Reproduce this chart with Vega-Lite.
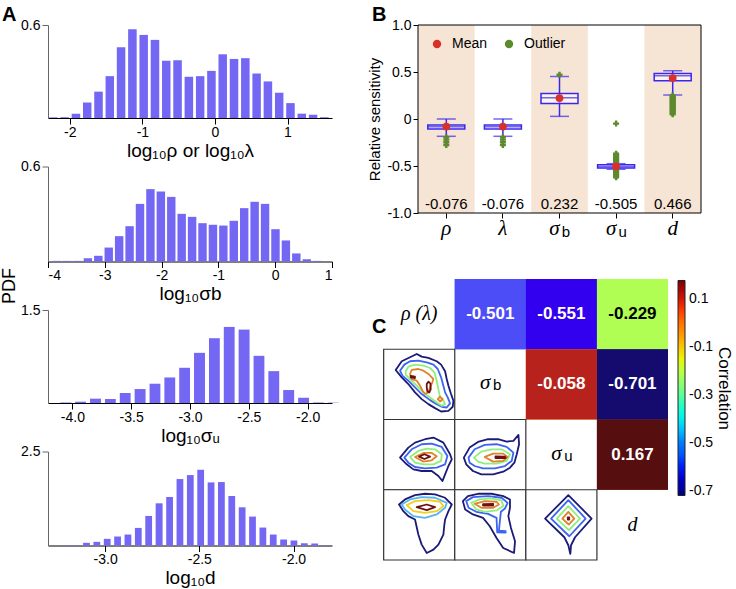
{
  "$schema": "https://vega.github.io/schema/vega-lite/v6.json",
  "padding": {"top": 5, "left": 0, "right": 0, "bottom": 0},
  "autosize": {"type": "pad"},
  "background": "white",
  "config": {
    "font": "Liberation Sans",
    "view": {"stroke": null},
    "locale": {"number": {"decimal": ".", "thousands": ",", "grouping": [3], "currency": ["$", ""], "minus": "-"}},
    "axis": {"labelFont": "Liberation Sans", "titleFont": "Liberation Sans", "labelColor": "black", "titleColor": "black", "tickColor": "black", "domainColor": "black", "grid": false, "titleFontWeight": "normal"},
    "title": {"font": "Liberation Sans", "fontSize": 20, "fontWeight": "bold", "color": "black", "frame": "group"}
  },
  "datasets": {
    "h1": [
      {"a": -2.311, "b": -2.156, "p": 0.004}, {"a": -2.156, "b": -2.0, "p": 0.005}, {"a": -2.0, "b": -1.844, "p": 0.028},
      {"a": -1.844, "b": -1.689, "p": 0.10}, {"a": -1.689, "b": -1.533, "p": 0.17}, {"a": -1.533, "b": -1.378, "p": 0.27},
      {"a": -1.378, "b": -1.222, "p": 0.456}, {"a": -1.222, "b": -1.066, "p": 0.572}, {"a": -1.066, "b": -0.911, "p": 0.536},
      {"a": -0.911, "b": -0.755, "p": 0.504}, {"a": -0.755, "b": -0.600, "p": 0.37}, {"a": -0.600, "b": -0.444, "p": 0.373},
      {"a": -0.444, "b": -0.288, "p": 0.266}, {"a": -0.288, "b": -0.133, "p": 0.27}, {"a": -0.133, "b": 0.023, "p": 0.304},
      {"a": 0.023, "b": 0.178, "p": 0.411}, {"a": 0.178, "b": 0.334, "p": 0.381}, {"a": 0.334, "b": 0.490, "p": 0.386},
      {"a": 0.490, "b": 0.645, "p": 0.287}, {"a": 0.645, "b": 0.801, "p": 0.236}, {"a": 0.801, "b": 0.956, "p": 0.163},
      {"a": 0.956, "b": 1.112, "p": 0.096}, {"a": 1.112, "b": 1.268, "p": 0.028}, {"a": 1.268, "b": 1.423, "p": 0.021},
      {"a": 1.423, "b": 1.579, "p": 0.005}
    ],
    "h2": [
      {"a": -3.948, "b": -3.765, "p": 0.004}, {"a": -3.765, "b": -3.581, "p": 0.004}, {"a": -3.581, "b": -3.398, "p": 0.004},
      {"a": -3.398, "b": -3.215, "p": 0.021}, {"a": -3.215, "b": -3.031, "p": 0.036}, {"a": -3.031, "b": -2.848, "p": 0.088},
      {"a": -2.848, "b": -2.664, "p": 0.16}, {"a": -2.664, "b": -2.481, "p": 0.223}, {"a": -2.481, "b": -2.297, "p": 0.364},
      {"a": -2.297, "b": -2.114, "p": 0.457}, {"a": -2.114, "b": -1.930, "p": 0.442}, {"a": -1.930, "b": -1.747, "p": 0.408},
      {"a": -1.747, "b": -1.564, "p": 0.301}, {"a": -1.564, "b": -1.380, "p": 0.282}, {"a": -1.380, "b": -1.197, "p": 0.242},
      {"a": -1.197, "b": -1.013, "p": 0.232}, {"a": -1.013, "b": -0.830, "p": 0.227}, {"a": -0.830, "b": -0.646, "p": 0.257},
      {"a": -0.646, "b": -0.463, "p": 0.337}, {"a": -0.463, "b": -0.279, "p": 0.377}, {"a": -0.279, "b": -0.096, "p": 0.364},
      {"a": -0.096, "b": 0.088, "p": 0.204}, {"a": 0.088, "b": 0.271, "p": 0.133}, {"a": 0.271, "b": 0.455, "p": 0.051},
      {"a": 0.455, "b": 0.638, "p": 0.015}, {"a": 0.638, "b": 0.821, "p": 0.004}
    ],
    "h3": [
      {"a": -4.123, "b": -3.997, "p": 0.008}, {"a": -3.997, "b": -3.871, "p": 0.021}, {"a": -3.871, "b": -3.744, "p": 0.07},
      {"a": -3.744, "b": -3.618, "p": 0.064}, {"a": -3.618, "b": -3.492, "p": 0.161}, {"a": -3.492, "b": -3.365, "p": 0.225},
      {"a": -3.365, "b": -3.239, "p": 0.311}, {"a": -3.239, "b": -3.113, "p": 0.412}, {"a": -3.113, "b": -2.987, "p": 0.568},
      {"a": -2.987, "b": -2.860, "p": 0.809}, {"a": -2.860, "b": -2.734, "p": 1.045}, {"a": -2.734, "b": -2.608, "p": 1.227},
      {"a": -2.608, "b": -2.481, "p": 1.184}, {"a": -2.481, "b": -2.355, "p": 0.761}, {"a": -2.355, "b": -2.229, "p": 0.514},
      {"a": -2.229, "b": -2.102, "p": 0.209}, {"a": -2.102, "b": -1.976, "p": 0.086}, {"a": -1.976, "b": -1.850, "p": 0.008},
      {"a": -1.850, "b": -1.723, "p": 0.006}
    ],
    "h4": [
      {"a": -3.239, "b": -3.184, "p": 0.01}, {"a": -3.184, "b": -3.129, "p": 0.01}, {"a": -3.129, "b": -3.074, "p": 0.071},
      {"a": -3.074, "b": -3.019, "p": 0.097}, {"a": -3.019, "b": -2.964, "p": 0.177}, {"a": -2.964, "b": -2.909, "p": 0.239},
      {"a": -2.909, "b": -2.854, "p": 0.292}, {"a": -2.854, "b": -2.799, "p": 0.468}, {"a": -2.799, "b": -2.744, "p": 0.786},
      {"a": -2.744, "b": -2.688, "p": 1.122}, {"a": -2.688, "b": -2.633, "p": 1.29}, {"a": -2.633, "b": -2.578, "p": 1.767},
      {"a": -2.578, "b": -2.523, "p": 1.873}, {"a": -2.523, "b": -2.468, "p": 2.014}, {"a": -2.468, "b": -2.413, "p": 1.678},
      {"a": -2.413, "b": -2.358, "p": 1.687}, {"a": -2.358, "b": -2.303, "p": 1.316}, {"a": -2.303, "b": -2.248, "p": 1.016},
      {"a": -2.248, "b": -2.193, "p": 0.769}, {"a": -2.193, "b": -2.138, "p": 0.477}, {"a": -2.138, "b": -2.083, "p": 0.292},
      {"a": -2.083, "b": -2.028, "p": 0.159}, {"a": -2.028, "b": -1.973, "p": 0.133}, {"a": -1.973, "b": -1.918, "p": 0.062},
      {"a": -1.918, "b": -1.863, "p": 0.053}, {"a": -1.863, "b": -1.808, "p": 0.008}
    ],
    "box": [
      {"k": "rho", "lo": -0.184, "q1": -0.106, "med": -0.083, "q3": -0.064, "hi": 0.0, "lab": "-0.076", "sym": "ρ", "sub": ""},
      {"k": "lambda", "lo": -0.184, "q1": -0.106, "med": -0.083, "q3": -0.064, "hi": 0.0, "lab": "-0.076", "sym": "λ", "sub": ""},
      {"k": "sb", "lo": 0.028, "q1": 0.166, "med": 0.226, "q3": 0.272, "hi": 0.452, "lab": "0.232", "sym": "σ", "sub": "b"},
      {"k": "su", "lo": -0.535, "q1": -0.522, "med": -0.505, "q3": -0.488, "hi": -0.475, "lab": "-0.505", "sym": "σ", "sub": "u"},
      {"k": "d", "lo": 0.254, "q1": 0.406, "med": 0.459, "q3": 0.484, "hi": 0.512, "lab": "0.466", "sym": "d", "sub": ""}
    ],
    "pts": [
      {"k": "rho", "val": -0.194, "type": "Outlier"}, {"k": "rho", "val": -0.219, "type": "Outlier"}, {"k": "rho", "val": -0.247, "type": "Outlier"}, {"k": "rho", "val": -0.276, "type": "Outlier"},
      {"k": "lambda", "val": -0.194, "type": "Outlier"}, {"k": "lambda", "val": -0.219, "type": "Outlier"}, {"k": "lambda", "val": -0.247, "type": "Outlier"}, {"k": "lambda", "val": -0.276, "type": "Outlier"},
      {"k": "sb", "val": 0.47, "type": "Outlier"},
      {"k": "su", "val": -0.049, "type": "Outlier"}, {"k": "su", "val": -0.37, "type": "Outlier"}, {"k": "su", "val": -0.38, "type": "Outlier"}, {"k": "su", "val": -0.39, "type": "Outlier"},
      {"k": "su", "val": -0.40, "type": "Outlier"}, {"k": "su", "val": -0.41, "type": "Outlier"}, {"k": "su", "val": -0.42, "type": "Outlier"}, {"k": "su", "val": -0.43, "type": "Outlier"},
      {"k": "su", "val": -0.44, "type": "Outlier"}, {"k": "su", "val": -0.45, "type": "Outlier"}, {"k": "su", "val": -0.46, "type": "Outlier"}, {"k": "su", "val": -0.47, "type": "Outlier"},
      {"k": "su", "val": -0.48, "type": "Outlier"}, {"k": "su", "val": -0.49, "type": "Outlier"}, {"k": "su", "val": -0.50, "type": "Outlier"}, {"k": "su", "val": -0.51, "type": "Outlier"},
      {"k": "su", "val": -0.52, "type": "Outlier"}, {"k": "su", "val": -0.53, "type": "Outlier"}, {"k": "su", "val": -0.54, "type": "Outlier"}, {"k": "su", "val": -0.55, "type": "Outlier"},
      {"k": "su", "val": -0.56, "type": "Outlier"}, {"k": "su", "val": -0.57, "type": "Outlier"}, {"k": "su", "val": -0.58, "type": "Outlier"}, {"k": "su", "val": -0.59, "type": "Outlier"},
      {"k": "su", "val": -0.60, "type": "Outlier"}, {"k": "su", "val": -0.61, "type": "Outlier"}, {"k": "su", "val": -0.62, "type": "Outlier"},
      {"k": "d", "val": 0.05, "type": "Outlier"}, {"k": "d", "val": 0.06, "type": "Outlier"}, {"k": "d", "val": 0.07, "type": "Outlier"}, {"k": "d", "val": 0.08, "type": "Outlier"},
      {"k": "d", "val": 0.09, "type": "Outlier"}, {"k": "d", "val": 0.10, "type": "Outlier"}, {"k": "d", "val": 0.11, "type": "Outlier"}, {"k": "d", "val": 0.12, "type": "Outlier"},
      {"k": "d", "val": 0.13, "type": "Outlier"}, {"k": "d", "val": 0.14, "type": "Outlier"}, {"k": "d", "val": 0.15, "type": "Outlier"}, {"k": "d", "val": 0.16, "type": "Outlier"},
      {"k": "d", "val": 0.17, "type": "Outlier"}, {"k": "d", "val": 0.18, "type": "Outlier"}, {"k": "d", "val": 0.19, "type": "Outlier"}, {"k": "d", "val": 0.20, "type": "Outlier"},
      {"k": "d", "val": 0.21, "type": "Outlier"}, {"k": "d", "val": 0.22, "type": "Outlier"}, {"k": "d", "val": 0.23, "type": "Outlier"}, {"k": "d", "val": 0.24, "type": "Outlier"},
      {"k": "d", "val": 0.25, "type": "Outlier"},
      {"k": "rho", "val": -0.081, "type": "Mean"}, {"k": "lambda", "val": -0.081, "type": "Mean"}, {"k": "sb", "val": 0.223, "type": "Mean"},
      {"k": "su", "val": -0.505, "type": "Mean"}, {"k": "d", "val": 0.435, "type": "Mean"}
    ],
    "cells": [
      {"r": 0, "c": 1, "kind": "heat", "v": -0.501}, {"r": 0, "c": 2, "kind": "heat", "v": -0.551}, {"r": 0, "c": 3, "kind": "heat", "v": -0.229},
      {"r": 1, "c": 2, "kind": "heat", "v": -0.058}, {"r": 1, "c": 3, "kind": "heat", "v": -0.701}, {"r": 2, "c": 3, "kind": "heat", "v": 0.167},
      {"r": 1, "c": 0, "kind": "lower"}, {"r": 2, "c": 0, "kind": "lower"}, {"r": 2, "c": 1, "kind": "lower"},
      {"r": 3, "c": 0, "kind": "lower"}, {"r": 3, "c": 1, "kind": "lower"}, {"r": 3, "c": 2, "kind": "lower"},
      {"r": 0, "c": 0, "kind": "diag", "main": "ρ (λ)", "sub": ""}, {"r": 1, "c": 1, "kind": "diag", "main": "σ", "sub": "b"},
      {"r": 2, "c": 2, "kind": "diag", "main": "σ", "sub": "u"}, {"r": 3, "c": 3, "kind": "diag", "main": "d", "sub": ""}
    ],
    "cont": [
      {"id": "a1", "lvl": "navy", "gx": [0.169,0.254,0.371,0.465,0.535,0.629,0.746,0.808,0.864,0.887,0.911,0.948,0.981,0.972,0.911,0.808,0.723,0.629,0.535,0.441,0.347,0.254], "gy": [1.295,1.171,1.114,1.067,1.105,1.124,1.171,1.219,1.314,1.424,1.519,1.638,1.733,1.819,1.876,1.886,1.838,1.781,1.710,1.614,1.495,1.400]},
      {"id": "a2", "lvl": "blue", "gx": [0.230,0.291,0.371,0.488,0.606,0.700,0.761,0.808,0.840,0.864,0.901,0.934,0.887,0.817,0.746,0.653,0.535,0.441,0.347,0.263], "gy": [1.305,1.219,1.171,1.162,1.186,1.219,1.281,1.400,1.519,1.614,1.686,1.771,1.829,1.819,1.781,1.724,1.638,1.543,1.448,1.376]},
      {"id": "a3", "lvl": "green", "gx": [0.310,0.347,0.441,0.559,0.653,0.714,0.746,0.770,0.793,0.840,0.864,0.817,0.746,0.653,0.559,0.465,0.371,0.310], "gy": [1.314,1.248,1.219,1.233,1.267,1.329,1.448,1.567,1.686,1.733,1.781,1.805,1.757,1.686,1.614,1.519,1.424,1.362]},
      {"id": "a4", "lvl": "orange", "gx": [0.371,0.394,0.488,0.559,0.629,0.700,0.685,0.653,0.629,0.582,0.545,0.512,0.465,0.394], "gy": [1.352,1.295,1.281,1.305,1.352,1.424,1.471,1.543,1.614,1.638,1.590,1.519,1.448,1.424]},
      {"id": "a5", "lvl": "orange", "gx": [0.761,0.793,0.831,0.793], "gy": [1.710,1.676,1.710,1.743]},
      {"id": "a6", "lvl": "dred", "gx": [0.38,0.44,0.44,0.38], "gy": [1.38,1.39,1.41,1.40]},
      {"id": "a7", "lvl": "dred", "gx": [0.606,0.629,0.657,0.662,0.643,0.615,0.606], "gy": [1.495,1.462,1.486,1.567,1.614,1.600,1.543]},
      {"id": "b1", "lvl": "navy", "gx": [0.230,0.347,0.441,0.582,0.700,0.840,0.934,0.958,0.911,0.864,0.826,0.770,0.676,0.535,0.418,0.324], "gy": [2.543,2.400,2.329,2.281,2.257,2.329,2.495,2.567,2.662,2.781,2.876,2.805,2.733,2.733,2.710,2.638]},
      {"id": "b2", "lvl": "blue", "gx": [0.291,0.394,0.535,0.676,0.817,0.897,0.864,0.746,0.582,0.441,0.347], "gy": [2.543,2.424,2.352,2.343,2.390,2.519,2.638,2.686,2.695,2.676,2.614]},
      {"id": "b3", "lvl": "green", "gx": [0.371,0.488,0.606,0.723,0.817,0.808,0.700,0.559,0.441], "gy": [2.533,2.448,2.414,2.424,2.495,2.590,2.638,2.638,2.614]},
      {"id": "b4", "lvl": "orange", "gx": [0.441,0.559,0.676,0.746,0.676,0.559], "gy": [2.533,2.476,2.476,2.524,2.581,2.600]},
      {"id": "b5", "lvl": "dred", "gx": [0.498,0.573,0.653,0.573], "gy": [2.529,2.495,2.529,2.562]},
      {"id": "c1", "lvl": "navy", "gx": [1.128,1.209,1.327,1.469,1.611,1.730,1.825,1.896,1.905,1.872,1.839,1.777,1.682,1.540,1.374,1.256,1.161], "gy": [2.543,2.400,2.319,2.281,2.281,2.314,2.305,2.219,2.352,2.495,2.614,2.686,2.743,2.781,2.781,2.733,2.638]},
      {"id": "c2", "lvl": "blue", "gx": [1.194,1.280,1.422,1.588,1.730,1.825,1.801,1.706,1.564,1.398,1.280,1.209], "gy": [2.543,2.424,2.362,2.352,2.390,2.471,2.590,2.662,2.695,2.695,2.662,2.614]},
      {"id": "c3", "lvl": "green", "gx": [1.270,1.374,1.517,1.659,1.777,1.730,1.588,1.422,1.327], "gy": [2.543,2.457,2.424,2.424,2.495,2.590,2.629,2.629,2.600]},
      {"id": "c4", "lvl": "orange", "gx": [1.422,1.540,1.682,1.744,1.682,1.540], "gy": [2.533,2.486,2.486,2.533,2.590,2.600]},
      {"id": "c5", "lvl": "dred", "gx": [1.573,1.706,1.716,1.573], "gy": [2.524,2.529,2.548,2.548]},
      {"id": "d1", "lvl": "navy", "gx": [0.216,0.300,0.441,0.582,0.723,0.864,0.958,0.911,0.864,0.854,0.840,0.770,0.700,0.606,0.535,0.488,0.441,0.347,0.277], "gy": [3.210,3.138,3.076,3.057,3.067,3.114,3.210,3.305,3.424,3.495,3.638,3.781,3.852,3.900,3.781,3.638,3.424,3.376,3.305]},
      {"id": "d2", "lvl": "lblue", "gx": [0.254,0.371,0.535,0.723,0.887,0.864,0.746,0.582,0.418,0.300], "gy": [3.210,3.138,3.105,3.114,3.186,3.257,3.352,3.400,3.376,3.281]},
      {"id": "d3", "lvl": "yellow", "gx": [0.324,0.441,0.629,0.793,0.840,0.746,0.582,0.418], "gy": [3.219,3.162,3.148,3.171,3.233,3.305,3.329,3.305]},
      {"id": "d4", "lvl": "dred", "gx": [0.465,0.606,0.723,0.606], "gy": [3.248,3.210,3.248,3.290]},
      {"id": "e1", "lvl": "navy", "gx": [1.114,1.185,1.327,1.517,1.682,1.777,1.777,1.754,1.791,1.848,1.834,1.682,1.588,1.493,1.398,1.256,1.147], "gy": [3.162,3.090,3.057,3.057,3.090,3.138,3.257,3.376,3.543,3.733,3.900,3.829,3.686,3.519,3.400,3.352,3.281]},
      {"id": "e2", "lvl": "blue", "gx": [1.161,1.256,1.469,1.659,1.744,1.706,1.649,1.635,1.621,1.716,1.716,1.597,1.588,1.469,1.303,1.194], "gy": [3.162,3.105,3.090,3.114,3.186,3.267,3.314,3.448,3.581,3.590,3.610,3.605,3.400,3.343,3.314,3.257]},
      {"id": "e3", "lvl": "green", "gx": [1.232,1.351,1.517,1.659,1.682,1.588,1.422,1.303], "gy": [3.186,3.138,3.124,3.152,3.233,3.295,3.314,3.281]},
      {"id": "e4", "lvl": "orange", "gx": [1.280,1.422,1.588,1.621,1.540,1.374], "gy": [3.200,3.162,3.171,3.210,3.257,3.257]},
      {"id": "e5", "lvl": "dred", "gx": [1.398,1.540,1.540,1.398], "gy": [3.205,3.200,3.224,3.224]},
      {"id": "f1", "lvl": "navy", "gx": [2.598,2.925,2.692,2.636,2.626,2.598,2.542,2.271], "gy": [3.076,3.410,3.676,3.790,3.914,3.790,3.676,3.410]},
      {"id": "f2", "lvl": "blue", "gx": [2.598,2.841,2.612,2.355], "gy": [3.148,3.410,3.662,3.410]},
      {"id": "f3", "lvl": "green", "gx": [2.598,2.762,2.607,2.435], "gy": [3.233,3.410,3.576,3.410]},
      {"id": "f4", "lvl": "orange", "gx": [2.598,2.682,2.603,2.514], "gy": [3.314,3.410,3.495,3.410]},
      {"id": "f5", "lvl": "dred", "gx": [2.590,2.610,2.610,2.590], "gy": [3.395,3.395,3.425,3.425]}
    ]
  },
  "spacing": 28,
  "hconcat": [
    {
      "bounds": "flush",
      "spacing": 48.5,
      "vconcat": [
        {
          "width": 284, "height": 93,
          "title": {"text": "A", "anchor": "start", "dx": -46, "offset": -7},
          "data": {"name": "h1"},
          "mark": {"type": "bar", "color": "#7367f4", "binSpacing": 2.8},
          "encoding": {
            "x": {"field": "a", "type": "quantitative", "bin": {"binned": true}, "scale": {"domain": [-2.3, 1.613], "nice": false, "zero": false},
                  "axis": {"values": [-2, -1, 0, 1], "format": "d", "title": "log₁₀ρ or log₁₀λ", "titleFontSize": 19, "labelFontSize": 14, "tickSize": 6, "labelPadding": 1, "titlePadding": 2}},
            "x2": {"field": "b"},
            "y": {"field": "p", "type": "quantitative", "scale": {"domain": [0, 0.6], "nice": false},
                  "axis": {"values": [0.6], "format": ".1f", "title": null, "labelFontSize": 14, "tickSize": 6, "domainColor": "#666", "tickColor": "#666"}}
          }
        },
        {
          "width": 284, "height": 95,
          "data": {"name": "h2"},
          "mark": {"type": "bar", "color": "#7367f4", "binSpacing": 2},
          "encoding": {
            "x": {"field": "a", "type": "quantitative", "bin": {"binned": true}, "scale": {"domain": [-4, 1], "nice": false, "zero": false},
                  "axis": {"values": [-4, -3, -2, -1, 0, 1], "format": "d", "title": "log₁₀σb", "titleFontSize": 19, "labelFontSize": 14, "tickSize": 6, "labelPadding": 1, "titlePadding": 2}},
            "x2": {"field": "b"},
            "y": {"field": "p", "type": "quantitative", "scale": {"domain": [0, 0.6], "nice": false},
                  "axis": {"values": [0.6], "format": ".1f", "title": "PDF", "titleFontSize": 18, "titleX": -39, "titleY": 119, "titleAlign": "center", "titleBaseline": "middle", "labelFontSize": 14, "tickSize": 6, "domainColor": "#666", "tickColor": "#666"}}
          }
        },
        {
          "width": 284, "height": 93,
          "data": {"name": "h3"},
          "mark": {"type": "bar", "color": "#7367f4", "binSpacing": 4},
          "encoding": {
            "x": {"field": "a", "type": "quantitative", "bin": {"binned": true}, "scale": {"domain": [-4.207, -1.793], "nice": false, "zero": false},
                  "axis": {"values": [-4, -3.5, -3, -2.5, -2], "format": ".1f", "title": "log₁₀σᵤ", "titleFontSize": 19, "labelFontSize": 14, "tickSize": 6, "labelPadding": 1, "titlePadding": 2}},
            "x2": {"field": "b"},
            "y": {"field": "p", "type": "quantitative", "scale": {"domain": [0, 1.5], "nice": false},
                  "axis": {"values": [1.5], "format": ".1f", "title": null, "labelFontSize": 14, "tickSize": 6, "domainColor": "#666", "tickColor": "#666"}}
          }
        },
        {
          "width": 284, "height": 94,
          "data": {"name": "h4"},
          "mark": {"type": "bar", "color": "#7367f4", "binSpacing": 3.6},
          "encoding": {
            "x": {"field": "a", "type": "quantitative", "bin": {"binned": true}, "scale": {"domain": [-3.303, -1.796], "nice": false, "zero": false},
                  "axis": {"values": [-3, -2.5, -2], "format": ".1f", "title": "log₁₀d", "titleFontSize": 19, "labelFontSize": 14, "tickSize": 6, "labelPadding": 1, "titlePadding": 2}},
            "x2": {"field": "b"},
            "y": {"field": "p", "type": "quantitative", "scale": {"domain": [0, 2.5], "nice": false},
                  "axis": {"values": [2.5], "format": ".1f", "title": null, "labelFontSize": 14, "tickSize": 6, "domainColor": "#666", "tickColor": "#666"}}
          }
        }
      ]
    },
    {
      "bounds": "flush",
      "spacing": 66,
      "vconcat": [
        {
          "width": 283, "height": 188,
          "title": {"text": "B", "anchor": "start", "dx": -46, "offset": -7},
          "layer": [
            {
              "data": {"name": "box"},
              "transform": [{"filter": {"field": "k", "oneOf": ["rho", "sb", "d"]}}],
              "mark": {"type": "bar", "color": "#f6e4d5"},
              "encoding": {
                "x": {"field": "k", "type": "nominal", "scale": {"domain": ["rho", "lambda", "sb", "su", "d"], "paddingInner": 0, "paddingOuter": 0},
                      "axis": {"labels": false, "title": null, "tickSize": 5, "domain": false, "ticks": true}},
                "y": {"datum": -1, "type": "quantitative", "scale": {"domain": [-1, 1], "nice": false},
                      "axis": {"values": [-1, -0.5, 0, 0.5, 1], "labelExpr": "datum.value == 0 ? '0' : format(datum.value, '.1f')", "title": "Relative sensitivity", "titleFontSize": 15, "labelFontSize": 14, "tickSize": 5, "domain": false, "titlePadding": 4}},
                "y2": {"datum": 1}
              }
            },
            {
              "data": {"name": "box"},
              "mark": {"type": "rule", "color": "#3a26ef", "strokeWidth": 1.5},
              "encoding": {"x": {"field": "k", "type": "nominal"}, "y": {"field": "lo", "type": "quantitative"}, "y2": {"field": "hi"}}
            },
            {
              "data": {"name": "box"},
              "mark": {"type": "tick", "color": "#3a26ef", "size": 19, "thickness": 1.5},
              "encoding": {"x": {"field": "k", "type": "nominal"}, "y": {"field": "lo", "type": "quantitative"}}
            },
            {
              "data": {"name": "box"},
              "mark": {"type": "tick", "color": "#3a26ef", "size": 19, "thickness": 1.5},
              "encoding": {"x": {"field": "k", "type": "nominal"}, "y": {"field": "hi", "type": "quantitative"}}
            },
            {
              "data": {"name": "box"},
              "mark": {"type": "bar", "width": 37, "fill": "white", "fillOpacity": 0.55, "stroke": "#3a26ef", "strokeWidth": 1.5},
              "encoding": {"x": {"field": "k", "type": "nominal"}, "y": {"field": "q1", "type": "quantitative"}, "y2": {"field": "q3"}}
            },
            {
              "data": {"name": "box"},
              "mark": {"type": "tick", "color": "#3a26ef", "size": 37, "thickness": 1.5},
              "encoding": {"x": {"field": "k", "type": "nominal"}, "y": {"field": "med", "type": "quantitative"}}
            },
            {
              "data": {"name": "pts"},
              "mark": {"type": "point", "filled": true, "opacity": 1},
              "encoding": {
                "x": {"field": "k", "type": "nominal"},
                "y": {"field": "val", "type": "quantitative"},
                "color": {"field": "type", "type": "nominal", "scale": {"domain": ["Mean", "Outlier"], "range": ["#d9302a", "#5c8a2e"]},
                          "legend": {"orient": "top-left", "direction": "horizontal", "title": null, "labelFontSize": 14, "symbolSize": 70, "offset": 10, "padding": 2, "columnPadding": 14, "labelOffset": 8,
                                     "encode": {"symbols": {"update": {"shape": {"signal": "datum.value == 'Outlier' ? 'cross' : 'circle'"}}}}}},
                "shape": {"field": "type", "type": "nominal", "scale": {"domain": ["Mean", "Outlier"], "range": ["circle", "cross"]}, "legend": null},
                "size": {"field": "type", "type": "nominal", "scale": {"domain": ["Mean", "Outlier"], "range": [60, 36]}, "legend": null}
              }
            },
            {
              "data": {"name": "box"},
              "mark": {"type": "text", "fontSize": 15, "baseline": "middle"},
              "encoding": {"x": {"field": "k", "type": "nominal"}, "y": {"datum": -0.9, "type": "quantitative"}, "text": {"field": "lab"}}
            },
            {
              "data": {"name": "box"},
              "transform": [{"filter": "datum.sub == ''"}],
              "mark": {"type": "text", "font": "Liberation Serif", "fontStyle": "italic", "fontSize": 21, "baseline": "alphabetic", "dy": 22},
              "encoding": {"x": {"field": "k", "type": "nominal"}, "y": {"datum": -1, "type": "quantitative"}, "text": {"field": "sym"}}
            },
            {
              "data": {"name": "box"},
              "transform": [{"filter": "datum.sub != ''"}],
              "mark": {"type": "text", "font": "Liberation Serif", "fontStyle": "italic", "fontSize": 21, "baseline": "alphabetic", "dy": 22, "dx": -5},
              "encoding": {"x": {"field": "k", "type": "nominal"}, "y": {"datum": -1, "type": "quantitative"}, "text": {"field": "sym"}}
            },
            {
              "data": {"name": "box"},
              "transform": [{"filter": "datum.sub != ''"}],
              "mark": {"type": "text", "fontSize": 15, "baseline": "alphabetic", "dy": 24, "dx": 6.5},
              "encoding": {"x": {"field": "k", "type": "nominal"}, "y": {"datum": -1, "type": "quantitative"}, "text": {"field": "sub"}}
            },
            {
              "data": {"name": "box"},
              "transform": [{"filter": "datum.k == 'rho'"}],
              "mark": {"type": "rule", "color": "black", "strokeWidth": 1},
              "encoding": {"y": {"datum": 1, "type": "quantitative"}}
            },
            {
              "data": {"name": "box"},
              "transform": [{"filter": "datum.k == 'rho'"}],
              "mark": {"type": "rule", "color": "black", "strokeWidth": 1},
              "encoding": {"y": {"datum": -1, "type": "quantitative"}}
            },
            {
              "data": {"name": "box"},
              "transform": [{"filter": "datum.k == 'rho'"}],
              "mark": {"type": "rule", "color": "black", "strokeWidth": 1},
              "encoding": {"x": {"datum": "rho", "type": "nominal", "bandPosition": 0}}
            },
            {
              "data": {"name": "box"},
              "transform": [{"filter": "datum.k == 'rho'"}],
              "mark": {"type": "rule", "color": "black", "strokeWidth": 1},
              "encoding": {"x": {"datum": "d", "type": "nominal", "bandPosition": 1}}
            }
          ]
        },
        {
          "width": 250, "height": 281,
          "title": {"text": "C", "anchor": "start", "dx": -46, "dy": 58, "offset": 0},
          "layer": [
            {
              "data": {"name": "cells"},
              "transform": [{"filter": "datum.kind == 'heat'"}, {"calculate": "datum.c + 1", "as": "c1"}, {"calculate": "datum.r + 1", "as": "r1"}],
              "mark": {"type": "rect"},
              "encoding": {
                "x": {"field": "c", "type": "quantitative", "scale": {"domain": [0.483, 4], "nice": false, "zero": false}, "axis": null},
                "x2": {"field": "c1"},
                "y": {"field": "r", "type": "quantitative", "scale": {"domain": [0, 4], "nice": false, "zero": false, "reverse": true}, "axis": null},
                "y2": {"field": "r1"},
                "fill": {"field": "v", "type": "quantitative",
                         "scale": {"domain": [-0.72, -0.608, -0.496, -0.384, -0.273, -0.161, -0.049, 0.063, 0.175], "range": ["#00007f", "#0000ff", "#007fff", "#08ffe4", "#7aff7a", "#e4ff14", "#ff9600", "#ff2200", "#7f0000"]},
                         "legend": {"orient": "none", "legendX": 630, "legendY": 255.5, "title": "Correlation", "titleOrient": "right", "titleFontSize": 17, "titleFontWeight": "normal", "titleAnchor": "middle", "titlePadding": 2, "gradientLength": 215, "gradientThickness": 7, "values": [-0.7, -0.5, -0.3, -0.1, 0.1], "format": ".1f", "labelFontSize": 14, "labelOffset": 4, "gradientStrokeColor": "#222", "gradientStrokeWidth": 1, "direction": "vertical", "type": "gradient"}}
              }
            },
            {
              "data": {"name": "cells"},
              "transform": [{"filter": "datum.kind == 'heat'"}, {"calculate": "datum.c + 1", "as": "c1"}, {"calculate": "datum.r + 1", "as": "r1"}],
              "mark": {"type": "rect"},
              "encoding": {
                "x": {"field": "c", "type": "quantitative"},
                "x2": {"field": "c1"},
                "y": {"field": "r", "type": "quantitative"},
                "y2": {"field": "r1"},
                "color": {"field": "v", "type": "quantitative", "legend": null,
                          "scale": {"domain": [-0.701, -0.551, -0.501, -0.229, -0.058, 0.167], "range": ["#150b6f", "#3300ef", "#4d4df7", "#b0fe54", "#b8221c", "#570e0e"]}}
              }
            },
            {
              "data": {"name": "cells"},
              "transform": [{"filter": "datum.kind == 'lower'"}, {"calculate": "datum.c + 1", "as": "c1"}, {"calculate": "datum.r + 1", "as": "r1"}],
              "mark": {"type": "rect", "fill": "white", "stroke": "#333", "strokeWidth": 1.2},
              "encoding": {
                "x": {"field": "c", "type": "quantitative"},
                "x2": {"field": "c1"},
                "y": {"field": "r", "type": "quantitative"},
                "y2": {"field": "r1"}
              }
            },
            {
              "data": {"name": "cont"},
              "transform": [{"flatten": ["gx", "gy"]}],
              "mark": {"type": "line", "interpolate": "linear-closed", "strokeWidth": 1.8, "strokeJoin": "round"},
              "encoding": {
                "x": {"field": "gx", "type": "quantitative"},
                "y": {"field": "gy", "type": "quantitative"},
                "detail": {"field": "id", "type": "nominal"},
                "order": {"value": null},
                "stroke": {"field": "lvl", "type": "nominal", "legend": null,
                           "scale": {"domain": ["navy", "blue", "lblue", "green", "yellow", "orange", "dred"], "range": ["#1b1a78", "#3d63f2", "#56b4f0", "#8ef07a", "#f0d21e", "#e0812b", "#6c1010"]}}
              }
            },
            {
              "data": {"name": "cells"},
              "transform": [{"filter": "datum.kind == 'heat'"}, {"calculate": "datum.c + 0.5", "as": "cx"}, {"calculate": "datum.r + 0.5", "as": "cy"}],
              "mark": {"type": "text", "fontSize": 17, "fontWeight": "bold", "baseline": "middle"},
              "encoding": {
                "x": {"field": "cx", "type": "quantitative"},
                "y": {"field": "cy", "type": "quantitative"},
                "text": {"field": "v", "type": "quantitative", "format": ".3f"},
                "color": {"condition": {"test": "datum.v > -0.3 && datum.v < -0.2", "value": "black"}, "value": "white"}
              }
            },
            {
              "data": {"name": "cells"},
              "transform": [{"filter": "datum.kind == 'diag' && datum.sub == ''"}, {"calculate": "datum.c + 0.5", "as": "cx"}, {"calculate": "datum.r + 0.5", "as": "cy"}],
              "mark": {"type": "text", "font": "Liberation Serif", "fontStyle": "italic", "fontSize": 20, "baseline": "alphabetic", "dy": 6},
              "encoding": {"x": {"field": "cx", "type": "quantitative"}, "y": {"field": "cy", "type": "quantitative"}, "text": {"field": "main"}}
            },
            {
              "data": {"name": "cells"},
              "transform": [{"filter": "datum.kind == 'diag' && datum.sub != ''"}, {"calculate": "datum.c + 0.5", "as": "cx"}, {"calculate": "datum.r + 0.5", "as": "cy"}],
              "mark": {"type": "text", "font": "Liberation Serif", "fontStyle": "italic", "fontSize": 21, "baseline": "alphabetic", "dy": 5, "dx": -5},
              "encoding": {"x": {"field": "cx", "type": "quantitative"}, "y": {"field": "cy", "type": "quantitative"}, "text": {"field": "main"}}
            },
            {
              "data": {"name": "cells"},
              "transform": [{"filter": "datum.kind == 'diag' && datum.sub != ''"}, {"calculate": "datum.c + 0.5", "as": "cx"}, {"calculate": "datum.r + 0.5", "as": "cy"}],
              "mark": {"type": "text", "fontSize": 15, "baseline": "alphabetic", "dy": 6, "dx": 7},
              "encoding": {"x": {"field": "cx", "type": "quantitative"}, "y": {"field": "cy", "type": "quantitative"}, "text": {"field": "sub"}}
            }
          ]
        }
      ]
    }
  ]
}
